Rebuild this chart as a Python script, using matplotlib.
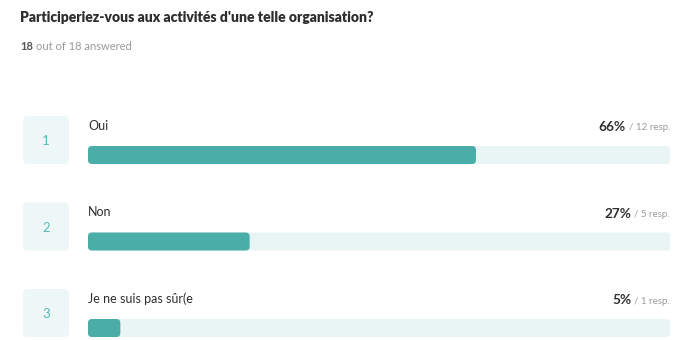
import matplotlib.pyplot as plt
from matplotlib.patches import FancyBboxPatch

plt.rcParams['font.family'] = ['Lato', 'DejaVu Sans']

title = "Participeriez-vous aux activités d'une telle organisation?"
answered = 18
total = 18

labels = ['Oui', 'Non', 'Je ne suis pas sûr(e']
pct_labels = [66, 27, 5]
responses = [12, 5, 1]

TEAL = '#4bada8'
TRACK = '#e9f5f5'
BOXBG = '#eef7f7'
NUMCOL = '#5cbab5'
DARK = '#2e2e2e'
GREY = '#9a9a9a'

fig = plt.figure(figsize=(6.74, 3.4), dpi=100)
ax = fig.add_axes([0, 0, 1, 1])
ax.set_xlim(0, 674)
ax.set_ylim(340, 0)
ax.axis('off')


def right_edge(txt):
    fig.canvas.draw()
    bb = txt.get_window_extent()
    return ax.transData.inverted().transform((bb.x1, 0))[0]


def left_edge(txt):
    fig.canvas.draw()
    bb = txt.get_window_extent()
    return ax.transData.inverted().transform((bb.x0, 0))[0]


ax.text(20, 17, title, fontsize=10, fontweight='heavy', color=DARK, va='center')
t = ax.text(20, 46, str(answered), fontsize=8, fontweight='bold', color='#555555', va='center')
ax.text(right_edge(t) + 3, 46, 'out of %d answered' % total, fontsize=8, color=GREY, va='center')

bar_x0, bar_x1 = 88, 670
bar_w = bar_x1 - bar_x0
row0 = 114
pitch = 86.5

for i, (lab, p, r) in enumerate(zip(labels, pct_labels, responses)):
    top = row0 + i * pitch
    # number box
    ax.add_patch(FancyBboxPatch((23, top + 2), 46, 48, boxstyle='round,pad=0,rounding_size=5',
                                fc=BOXBG, ec='none'))
    ax.text(46, top + 27, str(i + 1), fontsize=9.5, color=NUMCOL, ha='center', va='center')
    # label
    ax.text(bar_x0, top + 12, lab, fontsize=9, color=DARK, va='center')
    # percentage
    rt = ax.text(bar_x1, top + 14, '/ %d resp.' % r, fontsize=7, color=GREY, ha='right', va='center')
    ax.text(left_edge(rt) - 3, top + 13, '%d%%' % p, fontsize=9.8, fontweight='bold', color=DARK,
            ha='right', va='center')
    # track and bar
    by = top + 32
    bh = 18
    ax.add_patch(FancyBboxPatch((bar_x0, by), bar_w, bh, boxstyle='round,pad=0,rounding_size=3',
                                fc=TRACK, ec='none'))
    frac = r / total
    ax.add_patch(FancyBboxPatch((bar_x0, by), frac * bar_w, bh, boxstyle='round,pad=0,rounding_size=4',
                                fc=TEAL, ec='none'))

fig.savefig('out.png', dpi=100, facecolor='white')
